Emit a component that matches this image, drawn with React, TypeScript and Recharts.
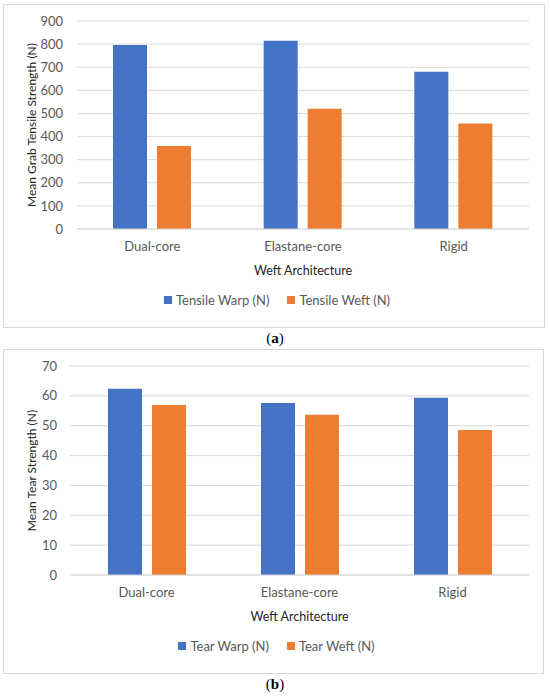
import { Bar, BarChart, CartesianGrid, Legend, XAxis, YAxis } from 'recharts';

const categories = ['Dual-core', 'Elastane-core', 'Rigid'];
const tensileWarp = [796, 815, 680];
const tensileWeft = [359, 520, 456];
const tearWarp = [62.4, 57.6, 59.4];
const tearWeft = [56.9, 53.7, 48.6];
const tensileTicks = [0, 100, 200, 300, 400, 500, 600, 700, 800, 900];
const tearTicks = [0, 10, 20, 30, 40, 50, 60, 70];

const FONT = 'Lato, "Open Sans", sans-serif';
const BLUE = '#4472C4';
const ORANGE = '#ED7D31';
const GRID = '#D9D9D9';

interface PanelProps {
  top: number;
  width: number;
  height: number;
  plotTop: number;
  plotRight: number;
  yWidth: number;
  tickMargin: number;
  warp: number[];
  weft: number[];
  warpName: string;
  weftName: string;
  ticks: number[];
  yLabel: string;
  caption: string;
}

function LegendContent({ payload }: any) {
  return (
    <div
      style={{
        display: 'flex',
        justifyContent: 'center',
        gap: 18,
        fontFamily: FONT,
        fontSize: 13,
        color: '#595959',
        paddingLeft: 6,
      }}
    >
      {(payload || []).map((entry: any) => (
        <span key={entry.value} style={{ display: 'flex', alignItems: 'center' }}>
          <span
            style={{ width: 8, height: 8, background: entry.color, marginRight: 4, display: 'inline-block' }}
          />
          {entry.value}
        </span>
      ))}
    </div>
  );
}

function Panel(props: PanelProps) {
  const data = categories.map((name, i) => ({
    name,
    warp: props.warp[i],
    weft: props.weft[i],
  }));
  const max = props.ticks[props.ticks.length - 1];

  return (
    <>
      <div
        style={{
          position: 'absolute',
          left: 3,
          top: props.top,
          width: props.width,
          height: props.height,
          border: `1px solid ${GRID}`,
          boxSizing: 'border-box',
        }}
      >
        <BarChart
          width={props.width}
          height={props.height}
          data={data}
          barSize={34}
          barGap={10}
          margin={{ top: props.plotTop, right: props.plotRight, left: 0, bottom: 6 }}
          style={{ position: 'absolute', left: -1, top: -1 }}
        >
          <CartesianGrid vertical={false} stroke={GRID} />
          <XAxis
            dataKey="name"
            height={63}
            tickLine={false}
            axisLine={{ stroke: GRID }}
            tickMargin={7}
            tick={{ fill: '#595959', fontSize: 13, fontFamily: FONT }}
            label={{
              value: 'Weft Architecture',
              position: 'insideBottom',
              offset: 17,
              fill: '#262626',
              fontSize: 12.5,
              fontFamily: FONT,
            }}
          />
          <YAxis
            width={props.yWidth}
            domain={[0, max]}
            ticks={props.ticks}
            interval={0}
            tickLine={false}
            axisLine={false}
            tickMargin={props.tickMargin}
            tick={{ fill: '#595959', fontSize: 13, fontFamily: FONT }}
            label={{
              value: props.yLabel,
              angle: -90,
              position: 'insideLeft',
              offset: 29,
              fill: '#262626',
              fontSize: 12,
              fontFamily: FONT,
              style: { textAnchor: 'middle' },
            }}
          />
          <Legend
            verticalAlign="bottom"
            height={30}
            wrapperStyle={{ left: 0, width: props.width }}
            content={LegendContent}
          />
          <Bar dataKey="warp" name={props.warpName} fill={BLUE} isAnimationActive={false} />
          <Bar dataKey="weft" name={props.weftName} fill={ORANGE} isAnimationActive={false} />
        </BarChart>
      </div>
      <div
        style={{
          position: 'absolute',
          left: 0,
          width: 550,
          top: props.top + props.height + 2,
          textAlign: 'center',
          fontFamily: '"Liberation Serif", "Times New Roman", serif',
          fontSize: 15,
          color: '#000',
        }}
      >
        (<b>{props.caption}</b>)
      </div>
    </>
  );
}

export default function App() {
  return (
    <div style={{ position: 'absolute', left: 0, top: 0, width: 550, height: 698, background: '#fff' }}>
      <Panel
        top={4}
        width={542}
        height={324}
        plotTop={17}
        plotRight={16}
        yWidth={74}
        tickMargin={8}
        warp={tensileWarp}
        weft={tensileWeft}
        warpName="Tensile Warp (N)"
        weftName="Tensile Weft (N)"
        ticks={tensileTicks}
        yLabel="Mean Grab Tensile Strength (N)"
        caption="a"
      />
      <Panel
        top={349}
        width={541}
        height={325}
        plotTop={17}
        plotRight={15}
        yWidth={67}
        tickMargin={7}
        warp={tearWarp}
        weft={tearWeft}
        warpName="Tear Warp (N)"
        weftName="Tear Weft (N)"
        ticks={tearTicks}
        yLabel="Mean Tear Strength (N)"
        caption="b"
      />
    </div>
  );
}
